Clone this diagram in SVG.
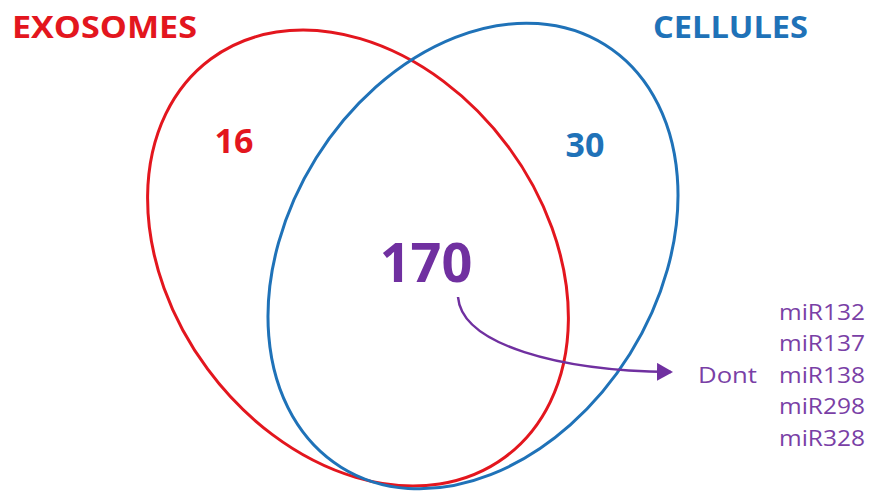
<svg xmlns="http://www.w3.org/2000/svg" width="877" height="492" viewBox="0 0 877 492">
  <style>
    .set { fill: none; stroke-width: 3; }
    .red { fill: #e3161e; stroke: #e3161e; }
    .blue { fill: #1f72b8; stroke: #1f72b8; }
    .title { font-family: "Open Sans", "Liberation Sans", sans-serif; font-weight: bold; font-size: 30px; stroke: none; }
    .count { font-family: "Open Sans", "Liberation Sans", sans-serif; font-weight: bold; stroke: none; text-anchor: middle; }
    .purple { fill: #7030a0; }
    .list { font-family: "Open Sans", "Liberation Sans", sans-serif; font-size: 22px; fill: #7a3fa6; }
  </style>
  <defs>
    <marker id="arrow" markerWidth="16" markerHeight="18" refX="14" refY="9" orient="auto" markerUnits="userSpaceOnUse">
      <path d="M0,0 L16,9 L0,18 Z" fill="#7030a0"/>
    </marker>
  </defs>
  <rect width="877" height="492" fill="#ffffff"/>

  <g id="exosomes">
    <ellipse class="set" stroke="#e3161e" cx="358" cy="258" rx="187" ry="247.5" transform="rotate(-36.5 358 258)"/>
    <text class="title red" x="12" y="38" textLength="185" lengthAdjust="spacingAndGlyphs">EXOSOMES</text>
    <text class="count red" x="234" y="153" font-size="34">16</text>
  </g>

  <g id="cellules">
    <ellipse class="set" stroke="#1f72b8" cx="473" cy="256" rx="185" ry="249" transform="rotate(32 473 256)"/>
    <text class="title blue" x="653" y="38" textLength="155" lengthAdjust="spacingAndGlyphs">CELLULES</text>
    <text class="count blue" x="585" y="157" font-size="34">30</text>
  </g>

  <g id="intersection">
    <text class="count purple" x="426" y="282" font-size="54">170</text>
  </g>

  <g id="connectors">
    <path d="M458,297 C462,345 560,371 671,372" fill="none" stroke="#7030a0" stroke-width="2.5" marker-end="url(#arrow)"/>
  </g>

  <g id="mirna-list">
    <text class="list" x="698" y="383" textLength="59" lengthAdjust="spacingAndGlyphs">Dont</text>
    <text class="list" x="779" y="320" textLength="86" lengthAdjust="spacingAndGlyphs">miR132</text>
    <text class="list" x="779" y="351" textLength="86" lengthAdjust="spacingAndGlyphs">miR137</text>
    <text class="list" x="779" y="383" textLength="86" lengthAdjust="spacingAndGlyphs">miR138</text>
    <text class="list" x="779" y="414" textLength="86" lengthAdjust="spacingAndGlyphs">miR298</text>
    <text class="list" x="779" y="446" textLength="86" lengthAdjust="spacingAndGlyphs">miR328</text>
  </g>
</svg>
